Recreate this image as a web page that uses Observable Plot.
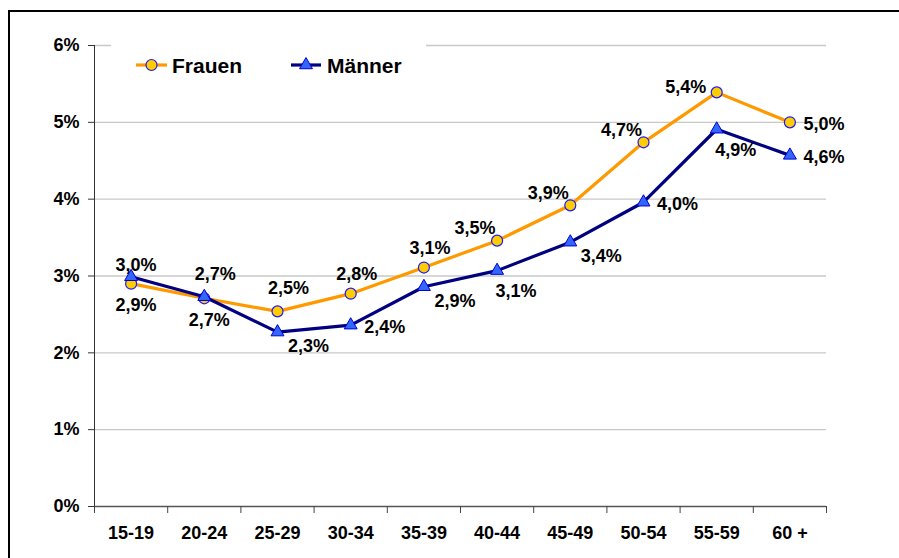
<!DOCTYPE html>
<html>
<head>
<meta charset="utf-8">
<script src="https://cdn.jsdelivr.net/npm/d3@7"></script>
<script src="https://cdn.jsdelivr.net/npm/@observablehq/plot@0.6"></script>
<style>
  html, body { margin: 0; padding: 0; background: #fff; }
  #wrap { position: relative; width: 899px; height: 558px; overflow: hidden; font-family: "Liberation Sans", Arial, sans-serif; }
  #border { position: absolute; left: 8px; top: 10px; width: 1000px; height: 1000px; border-left: 2px solid #000; border-top: 2px solid #000; pointer-events: none; }
  #legend { position: absolute; left: 111px; top: 38px; }
</style>
</head>
<body>
<div id="wrap"></div>
<script>
const ageGroups = ["15-19", "20-24", "25-29", "30-34", "35-39", "40-44", "45-49", "50-54", "55-59", "60 +"];
const frauen = [2.90, 2.71, 2.54, 2.77, 3.11, 3.46, 3.92, 4.74, 5.39, 5.00];
const maenner = [2.99, 2.73, 2.27, 2.36, 2.86, 3.07, 3.44, 3.96, 4.91, 4.57];
const yTicks = [0, 1, 2, 3, 4, 5, 6];
const seriesNames = ["Frauen", "Männer"];
// label placement keywords (presentation only)
const frauenLabelPos = ["s", "s", "ne", "n", "n", "nw", "nw", "nw", "w", "e"];
const maennerLabelPos = ["up", "ne", "se", "e", "se", "sse", "se", "e", "sse", "e"];

const offsets = {
  n: [6, -19], up: [5, -12], ne: [11, -23], nw: [-22, -12], w: [-31, -5],
  e: [34, 2], s: [5, 22], se: [31, 14], sse: [19, 21]
};

const fmt = v => d3.format(".1f")(v).replace(".", ",") + "%";

const rowsF = ageGroups.map((g, i) => ({i: i + 0.5, group: g, value: frauen[i], pos: frauenLabelPos[i]}));
const rowsM = ageGroups.map((g, i) => ({i: i + 0.5, group: g, value: maenner[i], pos: maennerLabelPos[i]}));

const FONT = "Liberation Sans, Arial, sans-serif";
const labelMarks = rows => Object.entries(offsets).map(([k, [dx, dy]]) =>
  Plot.text(rows.filter(d => d.pos === k), {
    x: "i", y: "value", text: d => fmt(d.value), dx, dy,
    fontSize: 18, fontWeight: "bold", fill: "#000", textAnchor: "middle", lineAnchor: "middle"
  })
);

const chart = Plot.plot({
  width: 899,
  height: 558,
  marginLeft: 94,
  marginRight: 73,
  marginTop: 45,
  marginBottom: 52,
  style: {fontFamily: FONT, background: "#fff", overflow: "visible"},
  x: {domain: [0, ageGroups.length]},
  y: {domain: [0, 6]},
  marks: [
    Plot.gridY(yTicks.slice(1), {stroke: "#c8c8c8", strokeOpacity: 1, strokeWidth: 1.3}),
    Plot.ruleX([0], {y1: 0, y2: 6, stroke: "#333"}),
    Plot.ruleY([0], {stroke: "#555", strokeWidth: 1.5}),
    Plot.axisY({ticks: yTicks, tickSize: 6, tickPadding: 9, tickFormat: d => d + "%",
      fontSize: 18, fontWeight: "bold", fill: "#000", stroke: "#333", label: null}),
    Plot.axisX({ticks: d3.range(0, ageGroups.length + 1), tickSize: 7, tickFormat: () => "",
      stroke: "#444", label: null}),
    Plot.axisX({ticks: rowsF.map(d => d.i), tickSize: 0, tickPadding: 20,
      tickFormat: v => ageGroups[Math.floor(v)], fontSize: 18, fontWeight: "bold", fill: "#000", label: null}),
    Plot.line(rowsF, {x: "i", y: "value", stroke: "#ff9900", strokeWidth: 3.2}),
    Plot.dot(rowsF, {x: "i", y: "value", r: 5.5, fill: "#ffcc00", stroke: "#1a1aff", strokeWidth: 1.2}),
    Plot.line(rowsM, {x: "i", y: "value", stroke: "#000080", strokeWidth: 3.2}),
    Plot.dot(rowsM, {x: "i", y: "value", symbol: "triangle", r: 4.8, fill: "#3366ff", stroke: "#0000cc", strokeWidth: 1}),
    ...labelMarks(rowsF),
    ...labelMarks(rowsM)
  ]
});

const wrap = document.getElementById("wrap");
wrap.appendChild(chart);

// Legend (overlay with white background, masks the top gridline like the original)
const ns = "http://www.w3.org/2000/svg";
const leg = document.createElementNS(ns, "svg");
leg.setAttribute("id", "legend");
leg.setAttribute("width", 315);
leg.setAttribute("height", 52);
leg.innerHTML = `
  <rect x="0" y="0" width="315" height="52" fill="#fff"/>
  <line x1="25" x2="56" y1="27" y2="27" stroke="#ff9900" stroke-width="3.2"/>
  <circle cx="40.5" cy="27" r="5.5" fill="#ffcc00" stroke="#1a1aff" stroke-width="1.2"/>
  <text x="61" y="35" font-family="${FONT}" font-size="21" font-weight="bold" fill="#000">${seriesNames[0]}</text>
  <line x1="180" x2="210" y1="27" y2="27" stroke="#000080" stroke-width="3.2"/>
  <path transform="translate(195,27)" d="${d3.symbol(d3.symbolTriangle, 4.8 * 4.8 * Math.PI)()}" fill="#3366ff" stroke="#0000cc" stroke-width="1"/>
  <text x="216" y="35" font-family="${FONT}" font-size="21" font-weight="bold" fill="#000">${seriesNames[1]}</text>
`;
wrap.appendChild(leg);

const border = document.createElement("div");
border.id = "border";
wrap.appendChild(border);
</script>
</body>
</html>
